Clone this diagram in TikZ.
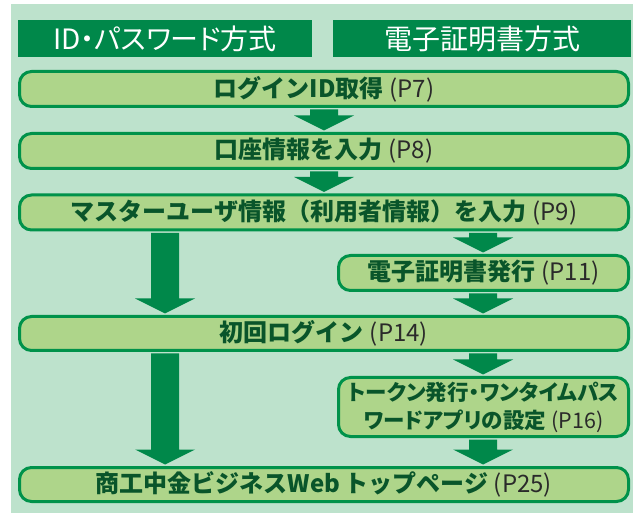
\documentclass[tikz,border=0pt]{standalone}
\usepackage{fontspec}
\newfontfamily\jpfont{Noto Sans CJK JP}
\usetikzlibrary{calc}

\definecolor{bggreen}{HTML}{BDE2CC}
\definecolor{darkgreen}{HTML}{00884A}
\definecolor{boxfill}{HTML}{AED58A}
\definecolor{boxline}{HTML}{00924A}
\definecolor{boxtext}{HTML}{09552A}
\definecolor{pagetext}{HTML}{2A2A2A}

% page reference after each step
\newcommand\pg[1]{\hspace{0.25em}{\mdseries\color{pagetext}(#1)}}
% thick down arrow between two steps
\newcommand\blockarrow[2]{%
 \fill[darkgreen] let \p1=(#1), \p2=(#2) in
  (\x1-14pt,\y1-1.5pt) -- (\x1-14pt,\y2+16.5pt) -- (\x1-30pt,\y2+16.5pt)
  -- (\x1,\y2+1.5pt) -- (\x1+30pt,\y2+16.5pt) -- (\x1+14pt,\y2+16.5pt)
  -- (\x1+14pt,\y1-1.5pt) -- cycle;}

\begin{document}
\begin{tikzpicture}[x=1pt,y=-1pt,
  header/.style={fill=darkgreen,text=white,minimum height=37pt,inner sep=0pt,
   font=\jpfont\addfontfeature{RawFeature=+palt}\fontsize{28}{30}\selectfont},
  flowbox/.style={draw=boxline,line width=3pt,fill=boxfill,rounded corners=12pt,
   minimum height=35pt,inner sep=0pt,text=boxtext,align=center,
   font=\jpfont\bfseries\fontsize{24}{28}\selectfont},
  wide/.style={flowbox,minimum width=609pt},
  side/.style={flowbox,minimum width=290pt}]
 \useasboundingbox (0,0) rectangle (638,513);
 \fill[bggreen] (11,4) rectangle (633,513);
 % column headers
 \node[header,minimum width=294pt] (idhead) at (165,38.5) {ID・パスワード方式};
 \node[header,minimum width=298pt] (certhead) at (482,38.5) {電子証明書方式};
 % steps
 \node[wide] (login) at (324,89) {ログインID取得\pg{P7}};
 \node[wide] (account) at (324,151) {口座情報を入力\pg{P8}};
 \node[wide] (master) at (324,212.5) {マスターユーザ情報（利用者情報）を入力\pg{P9}};
 \node[side] (cert) at (483.5,273) {電子証明書発行\pg{P11}};
 \node[wide,minimum height=34pt] (first) at (324,333.5) {初回ログイン\pg{P14}};
 \node[side,minimum height=59pt,
  font=\jpfont\bfseries\addfontfeature{RawFeature=+palt}\fontsize{21.5}{28}\selectfont]
  (token) at (483.5,407) {トークン発行・ワンタイムパス\\ワードアプリの設定\pg{P16}};
 \node[wide,minimum height=34pt] (top) at (324,484.5) {商工中金ビジネスWeb\,トップページ\pg{P25}};
 % arrow columns
 \coordinate (lcol) at (165,0);
 \coordinate (rcol) at (483,0);
 \blockarrow{login.south}{account.north}
 \blockarrow{account.south}{master.north}
 \blockarrow{lcol |- master.south}{lcol |- first.north}
 \blockarrow{lcol |- first.south}{lcol |- top.north}
 \blockarrow{rcol |- master.south}{rcol |- cert.north}
 \blockarrow{rcol |- cert.south}{rcol |- first.north}
 \blockarrow{rcol |- first.south}{rcol |- token.north}
 \blockarrow{rcol |- token.south}{rcol |- top.north}
\end{tikzpicture}
\end{document}
